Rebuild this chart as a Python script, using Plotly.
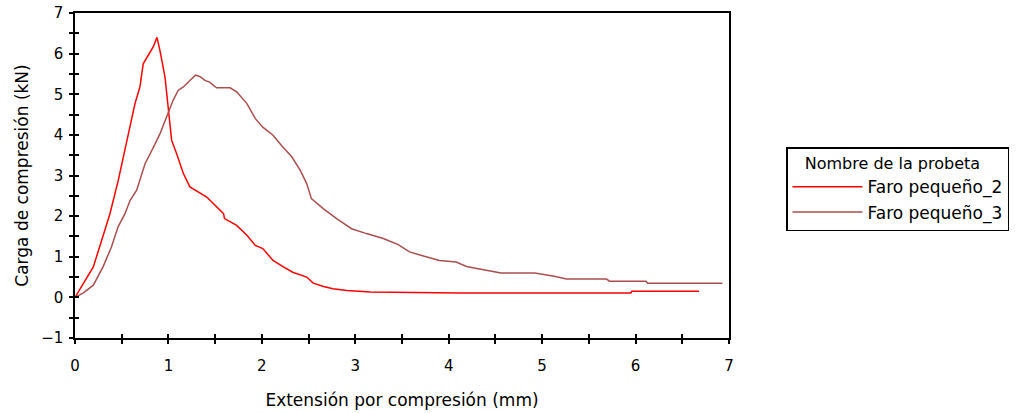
import plotly.graph_objects as go

# Data
series_names = ["Faro pequeño_2", "Faro pequeño_3"]
colors = ["#ff0000", "#ac4e4e"]

x_red = [0, 0.125, 0.196, 0.285, 0.374, 0.463, 0.553, 0.642, 0.695, 0.73, 0.784, 0.838, 0.877,
         0.909, 0.963, 0.998, 1.034, 1.087, 1.16, 1.23, 1.32, 1.41, 1.48, 1.59, 1.60, 1.73, 1.84,
         1.93, 2.01, 2.12, 2.23, 2.33, 2.48, 2.55, 2.66, 2.76, 2.91, 3.16, 4.12, 5.95, 5.96, 6.68]
y_red = [0, 0.47, 0.75, 1.40, 2.06, 2.88, 3.87, 4.77, 5.18, 5.75, 5.96, 6.17, 6.40,
         6.08, 5.43, 4.60, 3.87, 3.54, 3.05, 2.72, 2.59, 2.47, 2.31, 2.06, 1.94, 1.77, 1.53,
         1.28, 1.20, 0.91, 0.75, 0.62, 0.50, 0.35, 0.27, 0.21, 0.17, 0.13, 0.11, 0.11, 0.15, 0.15]

x_brown = [0, 0.09, 0.196, 0.30, 0.39, 0.46, 0.535, 0.59, 0.66, 0.75, 0.84, 0.91, 0.98, 1.05,
           1.105, 1.16, 1.23, 1.29, 1.34, 1.39, 1.44, 1.515, 1.66, 1.73, 1.84, 1.93, 2.01, 2.12,
           2.21, 2.32, 2.41, 2.48, 2.53, 2.66, 2.80, 2.96, 3.12, 3.30, 3.46, 3.58, 3.74, 3.90,
           4.08, 4.19, 4.30, 4.44, 4.56, 4.92, 5.13, 5.26, 5.69, 5.72, 6.11, 6.13, 6.93]
y_brown = [0, 0.11, 0.30, 0.75, 1.24, 1.73, 2.06, 2.39, 2.64, 3.29, 3.70, 4.03, 4.44, 4.85,
           5.10, 5.18, 5.34, 5.47, 5.43, 5.34, 5.30, 5.16, 5.16, 5.06, 4.77, 4.40, 4.19, 3.99,
           3.74, 3.46, 3.13, 2.80, 2.43, 2.18, 1.94, 1.69, 1.57, 1.45, 1.30, 1.12, 1.01, 0.91,
           0.87, 0.76, 0.71, 0.65, 0.60, 0.60, 0.52, 0.45, 0.45, 0.40, 0.40, 0.35, 0.35]

x_ticks = [0, 1, 2, 3, 4, 5, 6, 7]
y_ticks = [-1, 0, 1, 2, 3, 4, 5, 6, 7]

font_family = "DejaVu Sans, Verdana, sans-serif"

fig = go.Figure()
fig.add_trace(go.Scatter(x=x_red, y=y_red, mode="lines", name=series_names[0],
                         line=dict(color=colors[0], width=1.5)))
fig.add_trace(go.Scatter(x=x_brown, y=y_brown, mode="lines", name=series_names[1],
                         line=dict(color=colors[1], width=1.5)))
# empty trace to host the inside-tick overlay axes
fig.add_trace(go.Scatter(x=[], y=[], xaxis="x2", yaxis="y2", showlegend=False, hoverinfo="skip"))

common_axis = dict(showgrid=False, zeroline=False, linecolor="black", linewidth=1.5,
                   tickcolor="black", tickwidth=1.5)

fig.update_layout(
    width=1019, height=413,
    margin=dict(l=75, r=290, t=13, b=75, autoexpand=False),
    paper_bgcolor="white", plot_bgcolor="white",
    font=dict(family=font_family, size=15, color="black"),
    xaxis=dict(range=[0, 7], tickvals=x_ticks, ticks="outside", ticklen=4,
               showline=True, mirror=True,
               minor=dict(dtick=0.5, ticks="outside", ticklen=4, tickcolor="black", tickwidth=1.5),
               ticklabelstandoff=9, tickfont=dict(size=15),
               title=dict(text="Extensión por compresión (mm)", font=dict(size=17), standoff=20),
               **common_axis),
    yaxis=dict(range=[-1, 7], tickvals=y_ticks, ticks="outside", ticklen=4,
               showline=True, mirror=True,
               minor=dict(dtick=0.5, ticks="outside", ticklen=4, tickcolor="black", tickwidth=1.5),
               ticklabelstandoff=3, tickfont=dict(size=15),
               title=dict(text="Carga de compresión (kN)", font=dict(size=17), standoff=8),
               **common_axis),
    xaxis2=dict(range=[0, 7], overlaying="x", anchor="y2", tickvals=x_ticks, ticks="inside",
                ticklen=4, showticklabels=False, showline=False, showgrid=False, zeroline=False,
                tickcolor="black", tickwidth=1.5,
                minor=dict(dtick=0.5, ticks="inside", ticklen=4, tickcolor="black", tickwidth=1.5)),
    yaxis2=dict(range=[-1, 7], overlaying="y", anchor="x2", tickvals=y_ticks, ticks="inside",
                ticklen=4, showticklabels=False, showline=False, showgrid=False, zeroline=False,
                tickcolor="black", tickwidth=1.5,
                minor=dict(dtick=0.5, ticks="inside", ticklen=4, tickcolor="black", tickwidth=1.5)),
    legend=dict(x=(786 - 75) / 654, y=(338 - 147) / 325, xanchor="left", yanchor="top",
                bordercolor="black", borderwidth=1.5, bgcolor="white",
                title=dict(text="\u00a0\u00a0\u00a0Nombre de la probeta", font=dict(size=16)),
                font=dict(size=17), tracegroupgap=0, itemwidth=70),
    showlegend=True,
)

fig.write_html("out.html")
